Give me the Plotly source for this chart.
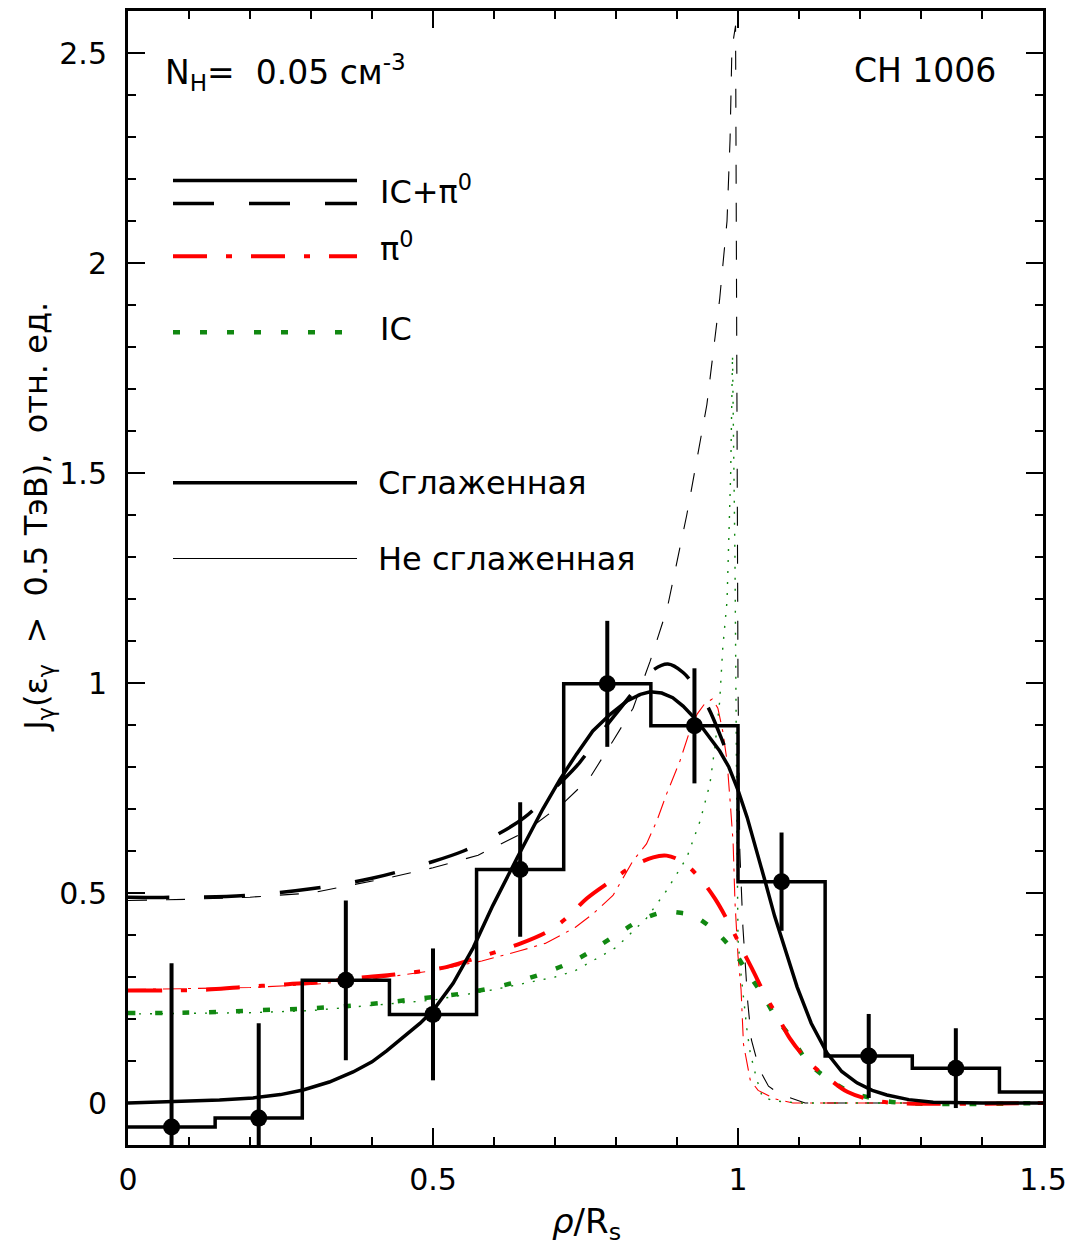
import plotly.graph_objects as go

# ---- measured profile (histogram bins of width 1/7) ----
bin_edges = [0, 1/7, 2/7, 3/7, 4/7, 5/7, 6/7, 1.0, 8/7, 9/7, 10/7, 1.5]
hist_vals = [-0.057, -0.036, 0.292, 0.211, 0.556, 0.998, 0.898, 0.527, 0.112, 0.083, 0.026]

pt_x = [0.0714, 0.2143, 0.3571, 0.5, 0.6429, 0.7857, 0.9286, 1.0714, 1.2143, 1.3571]
pt_y = [-0.057, -0.036, 0.292, 0.211, 0.556, 0.998, 0.898, 0.527, 0.112, 0.083]
pt_err = [0.39, 0.226, 0.19, 0.157, 0.16, 0.15, 0.137, 0.117, 0.1, 0.095]

# ---- smooth profile through the data ----
fit_x = [0, 0.1, 0.15, 0.205, 0.25, 0.287, 0.33, 0.369, 0.4, 0.424, 0.45, 0.479, 0.5, 0.533,
         0.566, 0.598, 0.638, 0.68, 0.708, 0.735, 0.762, 0.79, 0.818, 0.84, 0.856, 0.875,
         0.893, 0.91, 0.933, 0.95, 0.97, 0.985, 1.0, 1.015, 1.03, 1.045, 1.06, 1.08, 1.097,
         1.12, 1.146, 1.17, 1.195, 1.22, 1.244, 1.28, 1.32, 1.4, 1.5]
fit_y = [0.0, 0.004, 0.007, 0.012, 0.02, 0.031, 0.05, 0.074, 0.098, 0.124, 0.155, 0.19, 0.22,
         0.285, 0.37, 0.47, 0.584, 0.70, 0.77, 0.83, 0.886, 0.925, 0.957, 0.973, 0.979, 0.976,
         0.965, 0.945, 0.91, 0.878, 0.838, 0.80, 0.745, 0.68, 0.605, 0.525, 0.445, 0.35, 0.276,
         0.19, 0.119, 0.075, 0.048, 0.03, 0.019, 0.008, 0.002, 0.0, 0.0]

# ---- IC + pi0, smoothed ----
tot_s_x = [0, 0.1, 0.2, 0.3, 0.4, 0.5, 0.55, 0.6, 0.65, 0.7, 0.74, 0.78, 0.81, 0.84, 0.86,
           0.885, 0.91, 0.93, 0.95, 0.975, 0.99]
tot_s_y = [0.49, 0.49, 0.495, 0.51, 0.535, 0.575, 0.60, 0.635, 0.68, 0.75, 0.81, 0.89, 0.945,
           1.0, 1.03, 1.045, 1.025, 0.99, 0.945, 0.86, 0.80]

# ---- IC + pi0, not smoothed ----
tot_u_x = [0, 0.1, 0.2, 0.3, 0.43, 0.5, 0.574, 0.65, 0.713, 0.757, 0.795, 0.828, 0.856, 0.884,
           0.916, 0.949, 0.97, 0.982, 0.987, 0.99, 0.996, 0.997, 0.998, 1.0, 1.003, 1.008,
           1.016, 1.022, 1.035, 1.05, 1.07, 1.09, 1.11, 1.5]
tot_u_y = [0.482, 0.485, 0.49, 0.50, 0.537, 0.56, 0.59, 0.645, 0.713, 0.774, 0.862, 0.94, 1.052,
           1.178, 1.40, 1.663, 1.915, 2.10, 2.295, 2.51, 2.565, 2.2, 1.5, 1.0, 0.6, 0.42,
           0.24, 0.15, 0.08, 0.04, 0.02, 0.01, 0.0, 0.0]

# ---- pi0, smoothed ----
pi_s_x = [0, 0.06, 0.131, 0.18, 0.262, 0.306, 0.393, 0.437, 0.52, 0.56, 0.644, 0.69, 0.724,
          0.752, 0.793, 0.823, 0.861, 0.883, 0.91, 0.938, 0.962, 0.987, 1.006, 1.023, 1.047,
          1.066, 1.085, 1.118, 1.148, 1.18, 1.22, 1.26, 1.5]
pi_s_y = [0.268, 0.268, 0.27, 0.275, 0.283, 0.287, 0.30, 0.306, 0.323, 0.34, 0.38, 0.41, 0.447,
          0.487, 0.53, 0.56, 0.585, 0.589, 0.573, 0.534, 0.487, 0.423, 0.368, 0.32, 0.25,
          0.204, 0.154, 0.095, 0.059, 0.026, 0.007, 0.0, 0.0]

# ---- pi0, not smoothed ----
pi_u_x = [0, 0.2, 0.3, 0.4, 0.5, 0.58, 0.644, 0.684, 0.71, 0.733, 0.762, 0.795, 0.828, 0.85,
          0.867, 0.883, 0.905, 0.921, 0.933, 0.945, 0.958, 0.967, 0.975, 0.982, 0.987, 0.992,
          0.995, 1.0, 1.005, 1.009, 1.02, 1.033, 1.06, 1.09, 1.5]
pi_u_y = [0.27, 0.275, 0.282, 0.295, 0.315, 0.338, 0.363, 0.38, 0.40, 0.418, 0.45, 0.494, 0.577,
          0.617, 0.672, 0.736, 0.815, 0.886, 0.926, 0.95, 0.962, 0.94, 0.885, 0.815, 0.72, 0.62,
          0.48, 0.35, 0.27, 0.14, 0.055, 0.03, 0.01, 0.0, 0.0]

# ---- IC, smoothed ----
ic_s_x = [0, 0.126, 0.218, 0.306, 0.393, 0.48, 0.562, 0.65, 0.733, 0.8, 0.84, 0.88, 0.91, 0.926,
          0.962, 0.992, 1.016, 1.041, 1.064, 1.09, 1.115, 1.148, 1.185, 1.228, 1.27, 1.5]
ic_s_y = [0.214, 0.216, 0.221, 0.226, 0.235, 0.249, 0.264, 0.294, 0.34, 0.40, 0.435, 0.455,
          0.452, 0.447, 0.41, 0.363, 0.31, 0.256, 0.20, 0.15, 0.097, 0.057, 0.026, 0.009, 0.0, 0.0]

# ---- IC, not smoothed ----
ic_u_x = [0, 0.2, 0.3, 0.4, 0.5, 0.6, 0.7, 0.733, 0.8, 0.85, 0.883, 0.916, 0.938, 0.954, 0.962,
          0.97, 0.975, 0.982, 0.985, 0.988, 0.991, 0.995, 0.998, 1.0, 1.004, 1.015, 1.02, 1.03,
          1.04, 1.06, 1.1, 1.5]
ic_u_y = [0.212, 0.215, 0.22, 0.232, 0.245, 0.27, 0.30, 0.315, 0.37, 0.44, 0.506, 0.584, 0.672,
          0.76, 0.846, 0.957, 1.083, 1.195, 1.35, 1.5, 1.78, 1.3, 0.7, 0.39, 0.32, 0.17, 0.12,
          0.06, 0.014, 0.005, 0.0, 0.0]

RED = "#ff0000"
GREEN = "#118811"
FONT = "DejaVu Sans"
NB = "\u00a0"

# plot frame in page pixels
L, R, T, B = 128, 1043, 8, 1145
W, H = 1081, 1251


def fx(p):
    return (p - L) / (R - L)


def fy(p):
    return (B - p) / (B - T)


DASH_TOT = "41px,35px"
DASH_PI = "34px,19px,6px,19px"
DOT_IC = "7px,20px"

fig = go.Figure()


def line(x, y, color, width, dash="solid", shape="linear"):
    fig.add_trace(go.Scatter(x=x, y=y, mode="lines", showlegend=False, hoverinfo="skip",
                             line=dict(color=color, width=width, dash=dash, shape=shape)))


# unsmoothed model curves (thin)
line(tot_u_x, tot_u_y, "black", 1.1, "19px,19px")
line(pi_u_x, pi_u_y, RED, 1.1, "18px,7px,3px,7px")
line(ic_u_x, ic_u_y, GREEN, 1.4, "2px,9px")

# smoothed model curves (thick)
line(ic_s_x, ic_s_y, GREEN, 4.5, DOT_IC, "spline")
line(pi_s_x, pi_s_y, RED, 4, DASH_PI, "spline")
line(tot_s_x, tot_s_y, "black", 3.5, DASH_TOT, "spline")

# histogram of the measured profile
fig.add_trace(go.Scatter(x=bin_edges, y=hist_vals + [hist_vals[-1]], mode="lines",
                         showlegend=False, hoverinfo="skip",
                         line=dict(color="black", width=3.5, shape="hv")))

# smooth profile
line(fit_x, fit_y, "black", 3.5)

# data points with errors
fig.add_trace(go.Scatter(x=pt_x, y=pt_y, mode="markers", showlegend=False, hoverinfo="skip",
                         marker=dict(color="black", size=17),
                         error_y=dict(type="data", array=pt_err, visible=True,
                                      color="black", thickness=4, width=0)))

# legend samples
shapes = []


def key(y, color, width, dash):
    shapes.append(dict(type="line", xref="paper", yref="paper",
                       x0=fx(173), x1=fx(357), y0=fy(y), y1=fy(y),
                       line=dict(color=color, width=width, dash=dash)))


key(178, "black", 3.5, "solid")
key(201, "black", 3.5, DASH_TOT)
key(254, RED, 4, DASH_PI)
key(330, GREEN, 4.5, DOT_IC)
key(481, "black", 3.5, "solid")
key(557, "black", 1.1, "solid")

annotations = []


def text(s, x, y, size, xanchor="left"):
    annotations.append(dict(text=s, xref="paper", yref="paper", x=fx(x), y=fy(y),
                            xanchor=xanchor, yanchor="middle", showarrow=False,
                            font=dict(family=FONT, size=size, color="black")))


text("N<sub>H</sub>=" + NB + NB + "0.05 см<sup>-3</sup>", 163, 70, 33)
text("CH 1006", 998, 68, 33, "right")
text("IC+π<sup>0</sup>", 378, 187, 32)
text("π<sup>0</sup>", 378, 245, 32)
text("IC", 378, 327, 32)
text("Сглаженная", 376, 481, 32)
text("Не сглаженная", 376, 557, 32)

# axis titles
ytitle = ("J<sub>γ</sub>(ε<sub>γ</sub>" + NB * 2 + ">" + NB * 2 + "0.5" + NB + "ТэВ),"
          + NB * 2 + "отн." + NB + "ед.")
annotations.append(dict(text=ytitle,
                        xref="paper", yref="paper", x=fx(38), y=fy(515), textangle=-90,
                        xanchor="center", yanchor="middle", showarrow=False,
                        font=dict(family=FONT, size=32, color="black")))
annotations.append(dict(text="<i>ρ</i>/R<sub>s</sub>", xref="paper", yref="paper",
                        x=fx(586), y=fy(1224), xanchor="center", yanchor="middle",
                        showarrow=False, font=dict(family=FONT, size=34, color="black")))

axis_common = dict(showline=True, linecolor="black", linewidth=3, mirror="ticks",
                   ticks="inside", ticklen=17, tickwidth=2.2, tickcolor="black",
                   showgrid=False, zeroline=False, dtick=0.5, tick0=0,
                   tickfont=dict(family=FONT, size=30, color="black"),
                   minor=dict(ticks="inside", ticklen=8, tickwidth=2, tickcolor="black",
                              dtick=0.1, showgrid=False))

fig.update_layout(
    width=W, height=H,
    margin=dict(l=L, r=W - R, t=T, b=H - B),
    paper_bgcolor="white", plot_bgcolor="white",
    xaxis=dict(range=[0, 1.5], ticklabelstandoff=6, **axis_common),
    yaxis=dict(range=[-0.1, 2.6], ticklabelstandoff=12, **axis_common),
    shapes=shapes, annotations=annotations,
)

fig.write_html("out.html")
